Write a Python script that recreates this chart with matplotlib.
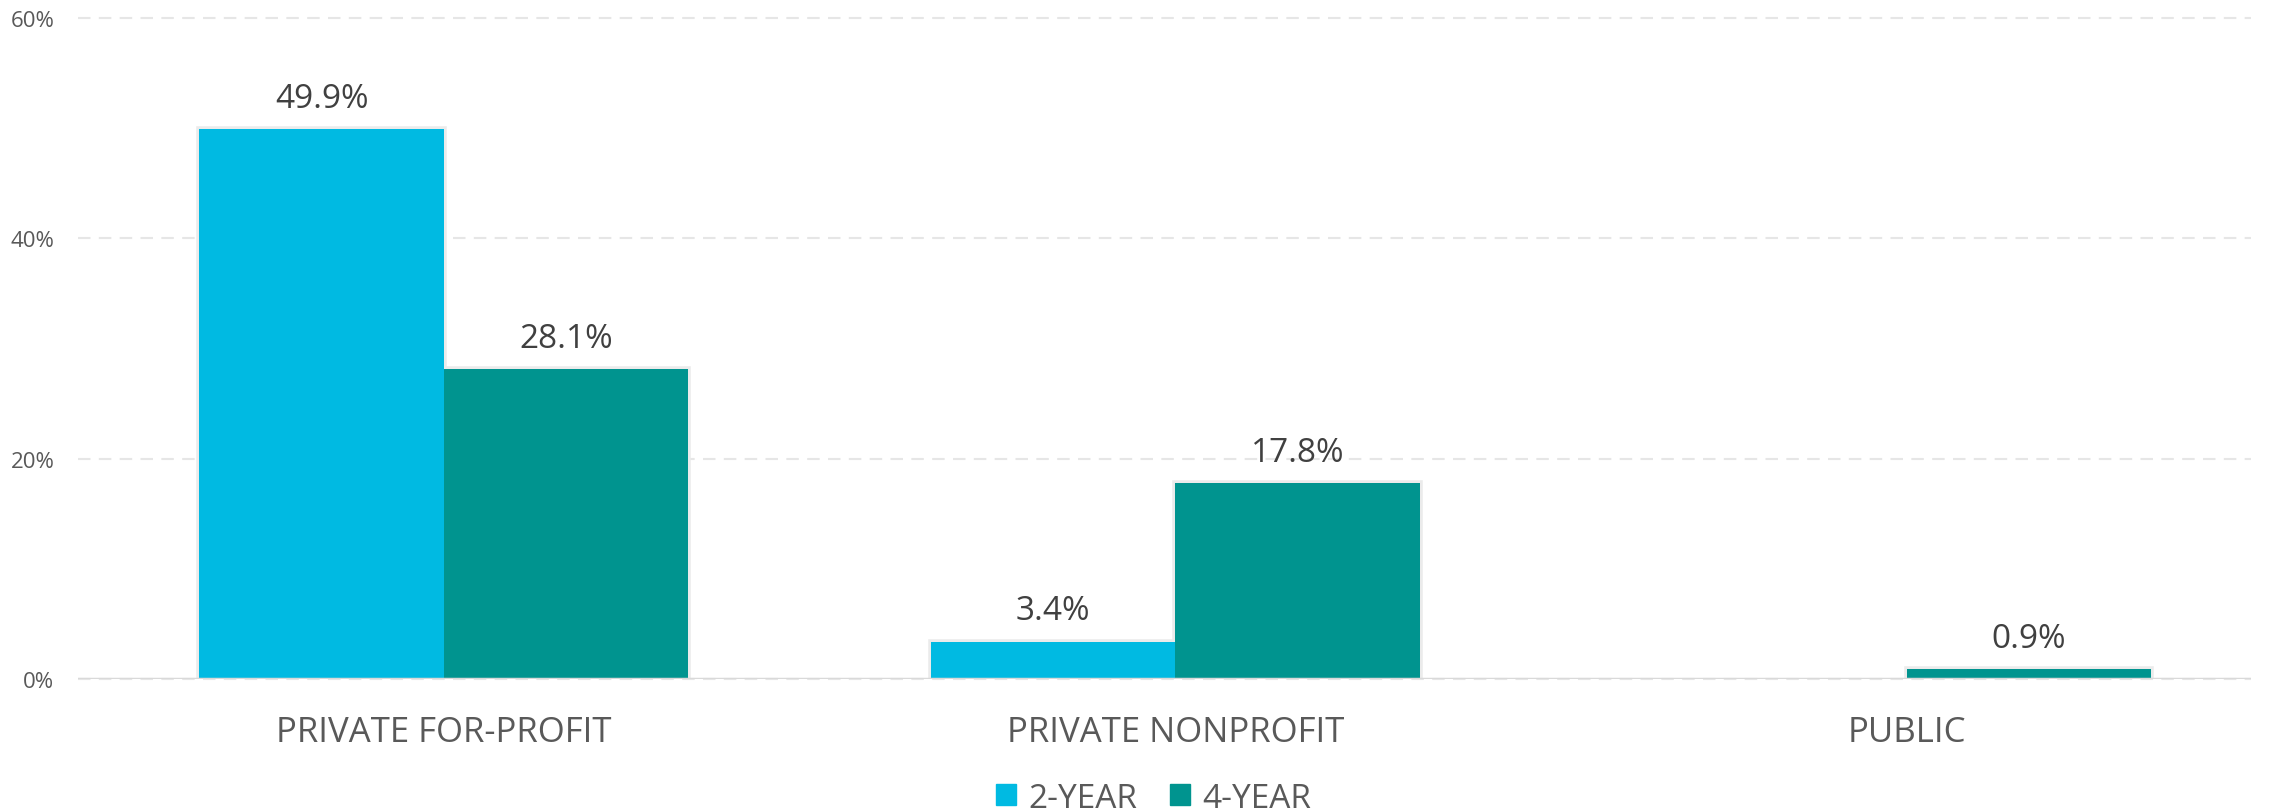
import numpy as np
import matplotlib
matplotlib.use('Agg')
import matplotlib.pyplot as plt
import matplotlib.patheffects as pe
from matplotlib.patches import Patch

plt.rcParams['font.family'] = ['Open Sans', 'DejaVu Sans']

# 数据
categories = ['PRIVATE FOR-PROFIT', 'PRIVATE NONPROFIT', 'PUBLIC']
two_year = [49.9, 3.4, 0.0]
four_year = [28.1, 17.8, 0.9]
y_ticks = [0, 20, 40, 60]

c2 = '#00BAE2'
c4 = '#00948F'
grey_txt = '#595959'

fig = plt.figure(figsize=(22.75, 8.12), dpi=100)
ax = fig.add_axes([0.0343, 0.1626, 0.955, 0.814])

x = np.arange(len(categories))
w = 0.334

# 浅灰阴影层，放在柱子下面
for off, vals in [(-w / 2, two_year), (w / 2, four_year)]:
    sh = ax.bar(x + off, vals, w, color='#EBEBEB', zorder=2)
    for rect in sh:
        if rect.get_height() > 0:
            rect.set_path_effects([pe.Stroke(linewidth=4, foreground='#EBEBEB'), pe.Normal()])
        else:
            rect.set_visible(False)

b2 = ax.bar(x - w / 2, two_year, w, color=c2, zorder=3)
b4 = ax.bar(x + w / 2, four_year, w, color=c4, zorder=3)

# 数值标签（2-YEAR 为 0 的不标）
for bars, vals in [(b2, two_year), (b4, four_year)]:
    for rect, v in zip(bars, vals):
        if v <= 0:
            continue
        ax.annotate(f'{v:.1f}%', (rect.get_x() + rect.get_width() / 2, v),
                    xytext=(0, 16), textcoords='offset points',
                    ha='center', va='baseline', fontsize=24, color='#404040')

ax.set_xlim(-0.5, 2.47)
ax.set_ylim(0, 60)
ax.set_yticks(y_ticks)
ax.set_yticklabels([f'{t}%' for t in y_ticks])
ax.set_xticks(x)
ax.set_xticklabels(categories)

ax.tick_params(axis='y', length=0, pad=17, labelsize=16, labelcolor=grey_txt)
ax.tick_params(axis='x', length=0, pad=26, labelsize=25, labelcolor=grey_txt)

ax.yaxis.grid(True, linestyle=(0, (6, 4)), color='#E6E6E6', linewidth=1.5, zorder=0)
for gl in ax.get_ygridlines():
    gl.set_clip_on(False)
ax.axhline(0, color='#D9D9D9', linewidth=2.5, zorder=4)

for s in ax.spines.values():
    s.set_visible(False)

handles = [Patch(color=c2, label='2-YEAR'), Patch(color=c4, label='4-YEAR')]
fig.legend(handles=handles, loc='center', bbox_to_anchor=(0.507, 0.016), ncol=2,
           frameon=False, fontsize=24, handlelength=0.6, handleheight=0.6,
           handletextpad=0.35, columnspacing=1.0, labelcolor=grey_txt)

fig.savefig('out.png', dpi=100)
